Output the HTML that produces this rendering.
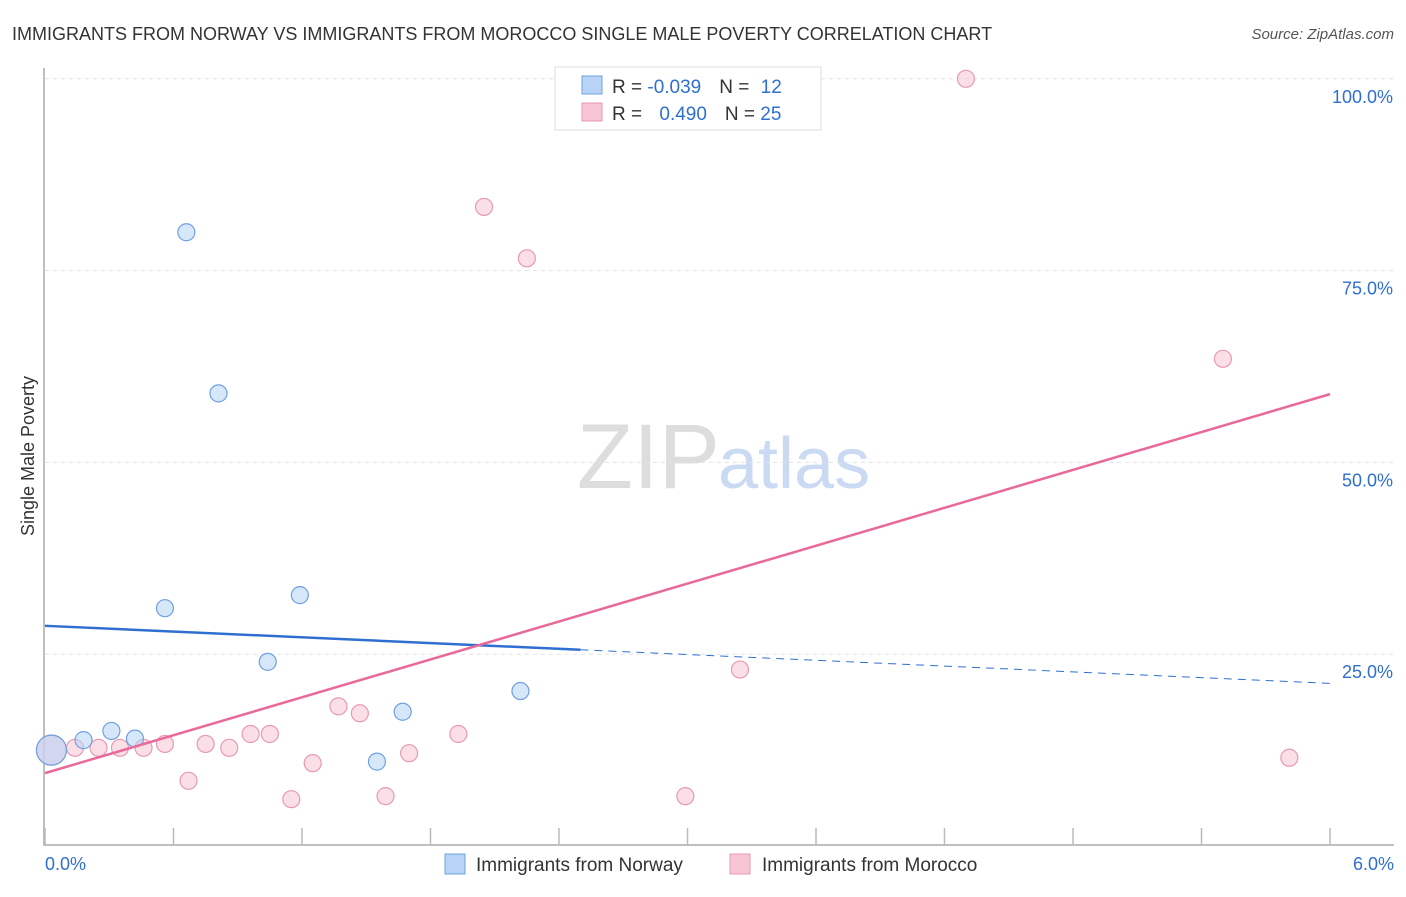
<!DOCTYPE html>
<html><head><meta charset="utf-8"><style>
body{margin:0;background:#fff;font-family:"Liberation Sans",sans-serif;}
svg text{font-family:"Liberation Sans",sans-serif;}
</style></head><body>
<svg id="c" width="1406" height="892">
<text x="12" y="40" font-size="18" fill="#333">IMMIGRANTS FROM NORWAY VS IMMIGRANTS FROM MOROCCO SINGLE MALE POVERTY CORRELATION CHART</text>
<text x="1394" y="39" font-size="15" fill="#555" font-style="italic" text-anchor="end">Source: ZipAtlas.com</text>
<text x="720" y="488" font-size="92" fill="#ddd" text-anchor="end" font-family="Liberation Serif">ZIP</text>
<text x="718" y="488" font-size="72" fill="#c9daf2">atlas</text>
<text transform="translate(34,456) rotate(-90)" font-size="18" fill="#333" text-anchor="middle">Single Male Poverty</text>
<g id="grid"></g><g id="marks"></g>
<g>
<rect x="555" y="67" width="266" height="63" fill="#fff" stroke="#ddd"/>
<rect x="582" y="76" width="20" height="18" fill="#b7d3f5" stroke="#6fa0e0"/>
<rect x="582" y="103" width="20" height="18" fill="#f8c5d4" stroke="#e79ab2"/>
<text x="612" y="93" font-size="19" fill="#333">R = <tspan fill="#2f6fd1">-0.039</tspan><tspan dx="18">N = </tspan><tspan fill="#2f6fd1" dx="6">12</tspan></text>
<text x="612" y="120" font-size="19" fill="#333">R = <tspan fill="#2f6fd1" dx="12">0.490</tspan><tspan dx="18">N = </tspan><tspan fill="#2f6fd1">25</tspan></text>
</g>
<g>
<rect x="445" y="854" width="20" height="20" fill="#b7d3f5" stroke="#6fa0e0"/>
<text x="476" y="871" font-size="19" fill="#333">Immigrants from Norway</text>
<rect x="730" y="854" width="20" height="20" fill="#f8c5d4" stroke="#e79ab2"/>
<text x="762" y="871" font-size="19" fill="#333">Immigrants from Morocco</text>
</g>
</svg>
<script>
const norwayX=[0.03,0.18,0.31,0.42,0.56,0.66,0.81,1.04,1.19,1.55,1.67,2.22];
const norwayY=[12.5,13.8,15.0,14.0,31.0,80.0,59.0,24.0,32.7,11.0,17.5,20.2];
const moroccoX=[0.03,0.14,0.25,0.35,0.46,0.56,0.67,0.75,0.86,0.96,1.05,1.15,1.25,1.37,1.47,1.59,1.70,1.93,2.05,2.25,2.99,3.245,4.30,5.50,5.81];
const moroccoY=[12.5,12.8,12.8,12.8,12.8,13.3,8.5,13.3,12.8,14.6,14.6,6.1,10.8,18.2,17.3,6.5,12.1,14.6,83.3,76.6,6.5,23.0,100.0,63.5,11.5];
const norwayTrend=[28.7,21.2];
const moroccoTrend=[9.5,58.9];
const yTicks=[25,50,75,100];
const xTickLabels=["0.0%","6.0%"];
const NS="http://www.w3.org/2000/svg";
const X=v=>45+v/6*1285, Y=v=>846-v*7.672;
function mk(t,a,p){const e=document.createElementNS(NS,t);for(const k in a)e.setAttribute(k,a[k]);p.appendChild(e);return e;}
const g=document.getElementById('grid'),m=document.getElementById('marks');
yTicks.forEach(t=>{
 const l=mk('line',{x1:45,x2:1394,y1:Y(t),y2:Y(t),stroke:'#e2e2e2','stroke-dasharray':'4,4'},g);
 
 
 const tx=mk('text',{x:1393,y:Y(t)+24,'font-size':18,fill:'#2f6fd1','text-anchor':'end'},g);tx.textContent=t.toFixed(1)+'%';
 
 
});
const ax=mk('path',{d:'M44,68V845H1394',fill:'none',stroke:'#aaa','stroke-width':1.5},g);


for(let i=0;i<=10;i++){const t=mk('line',{x1:X(i*0.6),x2:X(i*0.6),y1:828,y2:845,stroke:'#bbb','stroke-width':1.5},g);
 
 }
[[0,'start',45],[6,'end',1394]].forEach((d,i)=>{const t=mk('text',{x:d[2],y:870,'font-size':18,fill:'#2f6fd1','text-anchor':d[1]},g);t.textContent=xTickLabels[i];
 
 });
function dots(xs,ys,fill,stroke,name){xs.forEach((x,i)=>{const big=i===0;const c=mk('circle',{cx:X(x),cy:Y(ys[i]),r:big?15:8.5,fill:fill,'fill-opacity':big?0.6:0.55,stroke:stroke,'stroke-width':1.2},m);
 
 });}
dots(moroccoX,moroccoY,'#f8c5d4','#e79ab2','morocco');
dots(norwayX,norwayY,'#b7d3f5','#6fa0e0','norway');
const yn=x=>norwayTrend[0]+(norwayTrend[1]-norwayTrend[0])*x/6;
let l=mk('line',{x1:X(0),y1:Y(yn(0)),x2:X(2.5),y2:Y(yn(2.5)),stroke:'#2f6fd1','stroke-width':2.5},m);


l=mk('line',{x1:X(2.5),y1:Y(yn(2.5)),x2:X(6),y2:Y(yn(6)),stroke:'#2f6fd1','stroke-width':1,'stroke-dasharray':'8,6'},m);


l=mk('line',{x1:X(0),y1:Y(moroccoTrend[0]),x2:X(6),y2:Y(moroccoTrend[1]),stroke:'#e8699a','stroke-width':2.5},m);


</script>
</body></html>
